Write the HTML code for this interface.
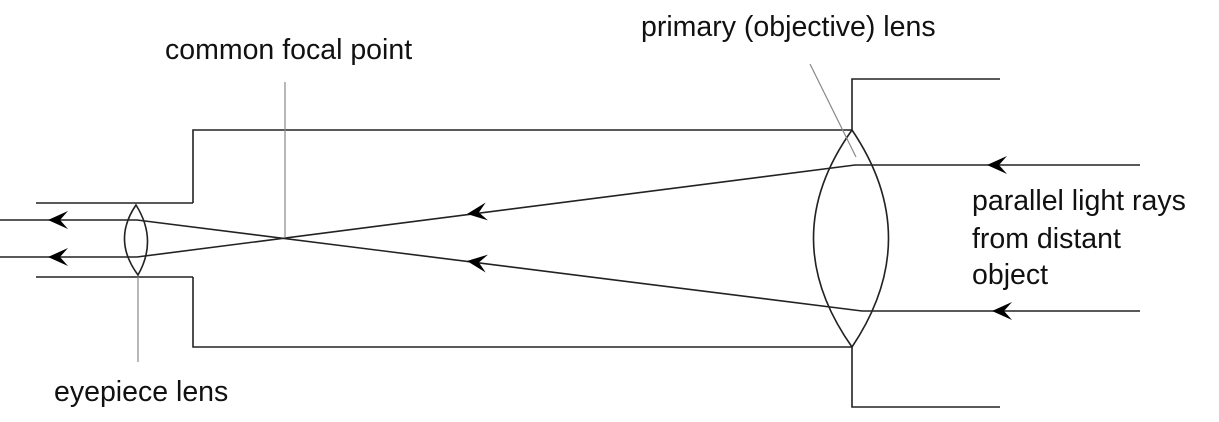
<!DOCTYPE html>
<html><head><style>body{margin:0;background:#fff}svg{display:block}text{font-family:"Liberation Sans",Arial,sans-serif;font-size:28.5px;fill:#111}</style></head>
<body>
<svg width="1219" height="422" viewBox="0 0 1219 422" xmlns="http://www.w3.org/2000/svg">
<defs>
<path id="ah" d="M0,0 L20,-9 L12,0 L20,9 Z" fill="#000"/>
</defs>
<g stroke="#222" stroke-width="1.6" fill="none">
<polyline points="193,203 193,130 852,130 852,79 1000,79"/>
<polyline points="193,277 193,347 852,347 852,407 1000,407"/>
<line x1="36" y1="203" x2="193" y2="203"/>
<line x1="36" y1="277" x2="193" y2="277"/>
<path d="M852,130 Q775,238 852,347 Q925,238 852,130 Z"/>
<path d="M136,205 Q112,240 138,275 Q158,240 136,205 Z"/>
<polyline points="1140,165 855,165 137,257 0,257"/>
<polyline points="1140,311 862,311 137,220 0,220"/>
</g>
<g stroke="#888" stroke-width="1.2">
<line x1="285" y1="82" x2="285" y2="238"/>
<line x1="810" y1="64" x2="856" y2="157"/>
<line x1="138" y1="277" x2="138" y2="362"/>
</g>
<use href="#ah" transform="translate(48,220)"/>
<use href="#ah" transform="translate(48,257)"/>
<use href="#ah" transform="translate(467,214) rotate(-7.3)"/>
<use href="#ah" transform="translate(467,261) rotate(7.3)"/>
<use href="#ah" transform="translate(987,165)"/>
<use href="#ah" transform="translate(992,311)"/>
<text x="165" y="59">common focal point</text>
<text x="641" y="36">primary (objective) lens</text>
<text x="972" y="210">parallel light rays</text>
<text x="972" y="248">from distant</text>
<text x="972" y="284">object</text>
<text x="54" y="401">eyepiece lens</text>
</svg>
</body></html>
